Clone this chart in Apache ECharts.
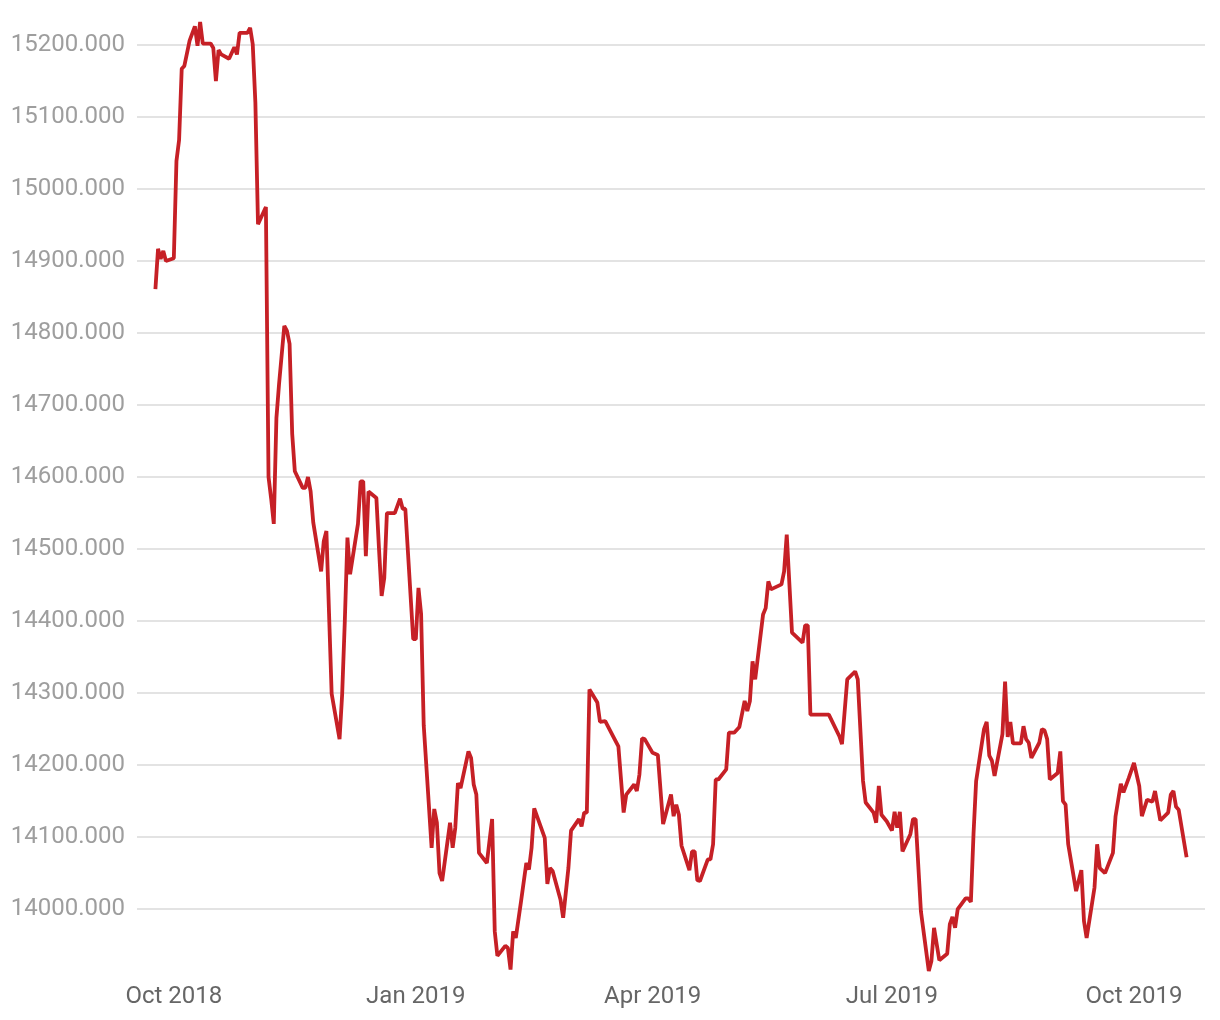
<!DOCTYPE html>
<html>
<head>
<meta charset="utf-8">
<script src="https://cdn.jsdelivr.net/npm/echarts@6/dist/echarts.min.js"></script>
<style>
html,body{margin:0;padding:0;background:#fff;}
#chart{width:1220px;height:1020px;}
</style>
</head>
<body>
<div id="chart"></div>
<script>
const dates = [
'2018-09-24','2018-09-25','2018-09-26','2018-09-27','2018-09-28','2018-10-01','2018-10-02','2018-10-03','2018-10-04','2018-10-05',
'2018-10-07','2018-10-09','2018-10-10','2018-10-11','2018-10-12','2018-10-15','2018-10-16','2018-10-17','2018-10-18','2018-10-19',
'2018-10-22','2018-10-24','2018-10-25','2018-10-26','2018-10-29','2018-10-30','2018-10-31','2018-11-01','2018-11-02','2018-11-05',
'2018-11-06','2018-11-07','2018-11-08','2018-11-09','2018-11-10','2018-11-12','2018-11-13','2018-11-14','2018-11-15','2018-11-16',
'2018-11-19','2018-11-20','2018-11-21','2018-11-22','2018-11-23','2018-11-26','2018-11-27','2018-11-28','2018-11-29','2018-11-30',
'2018-12-03','2018-12-04','2018-12-05','2018-12-06','2018-12-07','2018-12-10','2018-12-11','2018-12-12','2018-12-13','2018-12-14',
'2018-12-17','2018-12-18','2018-12-19','2018-12-20','2018-12-21','2018-12-24','2018-12-26','2018-12-27','2018-12-28','2018-12-31',
'2019-01-01','2019-01-02','2019-01-03','2019-01-04','2019-01-07','2019-01-08','2019-01-09','2019-01-10','2019-01-11','2019-01-14',
'2019-01-15','2019-01-16','2019-01-17','2019-01-18','2019-01-21','2019-01-22','2019-01-23','2019-01-24','2019-01-25','2019-01-28',
'2019-01-30','2019-01-31','2019-02-01','2019-02-04','2019-02-05','2019-02-06','2019-02-07','2019-02-08','2019-02-10','2019-02-12',
'2019-02-13','2019-02-14','2019-02-15','2019-02-19','2019-02-20','2019-02-21','2019-02-22','2019-02-25','2019-02-26','2019-02-28',
'2019-03-01','2019-03-04','2019-03-05','2019-03-06','2019-03-07','2019-03-08','2019-03-11','2019-03-12','2019-03-14','2019-03-17',
'2019-03-19','2019-03-21','2019-03-22','2019-03-25','2019-03-26','2019-03-27','2019-03-28','2019-03-29','2019-04-01','2019-04-03',
'2019-04-05','2019-04-08','2019-04-09','2019-04-10','2019-04-11','2019-04-12','2019-04-15','2019-04-16','2019-04-17','2019-04-18',
'2019-04-19','2019-04-22','2019-04-23','2019-04-24','2019-04-25','2019-04-26','2019-04-29','2019-04-30','2019-05-02','2019-05-04',
'2019-05-06','2019-05-07','2019-05-08','2019-05-09','2019-05-10','2019-05-13','2019-05-14','2019-05-15','2019-05-16','2019-05-20',
'2019-05-21','2019-05-22','2019-05-24','2019-05-28','2019-05-29','2019-05-30','2019-05-31','2019-06-07','2019-06-11','2019-06-12',
'2019-06-14','2019-06-17','2019-06-18','2019-06-20','2019-06-21','2019-06-24','2019-06-25','2019-06-26','2019-06-27','2019-06-29',
'2019-07-01','2019-07-02','2019-07-03','2019-07-04','2019-07-05','2019-07-08','2019-07-09','2019-07-10','2019-07-12','2019-07-15',
'2019-07-16','2019-07-17','2019-07-19','2019-07-22','2019-07-23','2019-07-24','2019-07-25','2019-07-26','2019-07-29','2019-07-30',
'2019-07-31','2019-08-01','2019-08-02','2019-08-05','2019-08-06','2019-08-07','2019-08-08','2019-08-09','2019-08-12','2019-08-13',
'2019-08-14','2019-08-15','2019-08-16','2019-08-19','2019-08-20','2019-08-21','2019-08-22','2019-08-23','2019-08-26','2019-08-27',
'2019-08-28','2019-08-29','2019-08-30','2019-09-02','2019-09-03','2019-09-04','2019-09-05','2019-09-06','2019-09-09','2019-09-11',
'2019-09-12','2019-09-13','2019-09-16','2019-09-17','2019-09-18','2019-09-20','2019-09-23','2019-09-24','2019-09-26','2019-09-27',
'2019-09-29','2019-10-01','2019-10-03','2019-10-04','2019-10-06','2019-10-08','2019-10-09','2019-10-11','2019-10-14','2019-10-15',
'2019-10-16','2019-10-17','2019-10-18','2019-10-21'
];
const values = [
14861,14917,14903,14914,14900,14904,15039,15068,15167,15171,
15206,15226,15199,15232,15202,15202,15196,15150,15193,15187,
15181,15197,15187,15217,15217,15224,15201,15120,14951,14975,
14600,14570,14535,14682,14729,14810,14803,14785,14660,14608,
14585,14585,14600,14580,14537,14469,14511,14525,14411,14299,
14236,14299,14400,14516,14465,14535,14594,14594,14490,14580,
14571,14500,14435,14460,14550,14550,14570,14556,14556,14375,
14375,14446,14410,14255,14085,14139,14120,14050,14039,14120,
14085,14113,14175,14168,14219,14210,14173,14159,14078,14064,
14125,13969,13935,13949,13946,13916,13969,13960,14011,14064,
14055,14085,14140,14099,14035,14057,14053,14013,13988,14057,
14109,14125,14115,14134,14134,14305,14287,14260,14261,14240,
14226,14134,14159,14173,14164,14187,14237,14236,14217,14214,
14118,14159,14129,14145,14131,14088,14054,14080,14080,14040,
14039,14069,14069,14090,14180,14180,14194,14245,14245,14253,
14289,14275,14289,14344,14319,14409,14418,14455,14444,14451,
14469,14520,14384,14370,14394,14394,14270,14270,14240,14229,
14319,14330,14319,14178,14148,14134,14120,14171,14131,14122,
14109,14135,14113,14135,14080,14104,14125,14125,13997,13914,
13928,13974,13929,13938,13979,13989,13974,14000,14015,14015,
14010,14104,14178,14250,14260,14213,14206,14185,14243,14316,
14239,14260,14230,14230,14254,14236,14231,14210,14231,14250,
14248,14236,14180,14189,14219,14150,14145,14090,14025,14054,
13983,13960,14030,14090,14057,14050,14078,14129,14174,14162,
14182,14203,14171,14129,14152,14149,14164,14123,14134,14159,
14164,14142,14138,14072
];
const monthNames = ['Jan','Feb','Mar','Apr','May','Jun','Jul','Aug','Sep','Oct','Nov','Dec'];

const DAY = 86400000;
const chart = echarts.init(document.getElementById('chart'));
chart.setOption({
  animation: false,
  backgroundColor: '#ffffff',
  grid: { left: 137, right: 15, top: 22, bottom: 49, containLabel: false },
  xAxis: {
    type: 'time',
    min: function (v) { return v.min - 7 * DAY; },
    max: function (v) { return v.max + 7 * DAY; },
    splitNumber: 4,
    axisLine: { show: false },
    axisTick: { show: false },
    splitLine: { show: false },
    axisLabel: {
      color: '#666666',
      fontFamily: 'Roboto',
      fontSize: 24,
      margin: 14,
      showMinLabel: false,
      showMaxLabel: false,
      formatter: function (val) {
        const d = new Date(val);
        if (d.getDate() === 1 && d.getMonth() % 3 === 0) {
          return monthNames[d.getMonth()] + ' ' + d.getFullYear();
        }
        return '';
      }
    }
  },
  yAxis: {
    type: 'value',
    min: 'dataMin',
    max: 'dataMax',
    splitNumber: 13,
    axisLine: { show: false },
    axisTick: { show: false },
    splitLine: { show: true, showMinLine: false, showMaxLine: false, lineStyle: { color: '#e3e3e3', width: 2 } },
    axisLabel: {
      color: '#9e9e9e',
      fontFamily: 'Roboto',
      fontSize: 24,
      margin: 12,
      showMinLabel: false,
      showMaxLabel: false,
      formatter: function (v) { return v.toFixed(3); }
    }
  },
  series: [{
    type: 'line',
    data: dates.map(function (d, i) { return [d, values[i]]; }),
    showSymbol: false,
    lineStyle: { color: '#c62026', width: 3.8 },
    itemStyle: { color: '#c62026' }
  }]
});
</script>
</body>
</html>
